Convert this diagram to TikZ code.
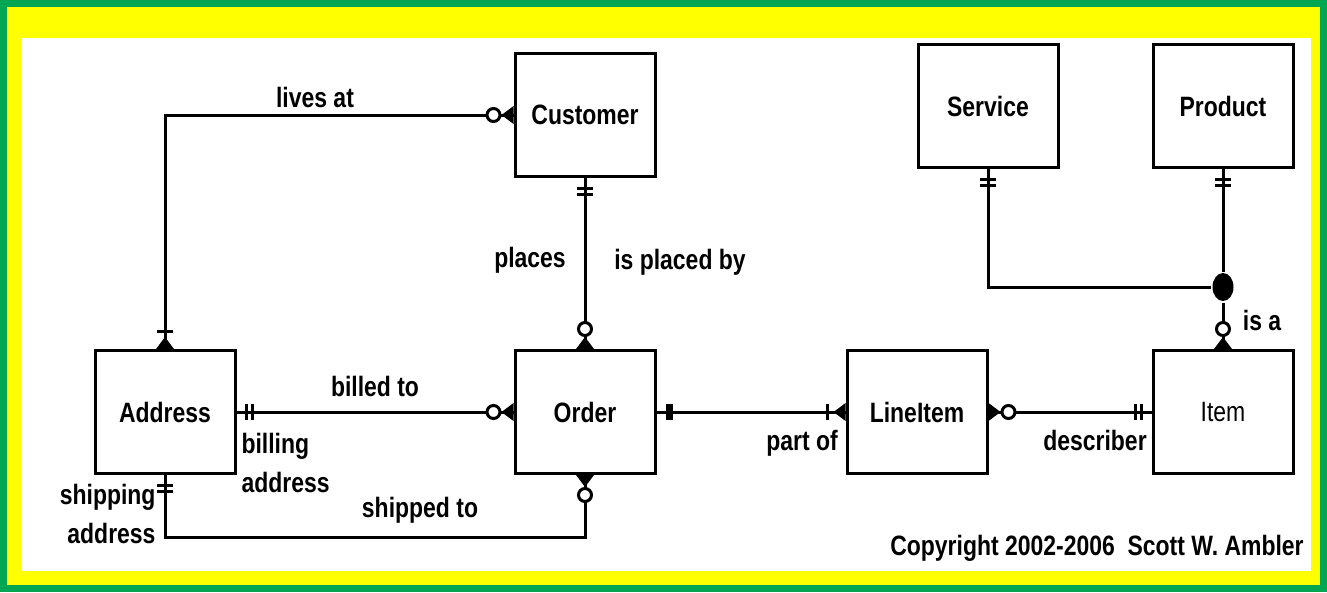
\documentclass[tikz,border=0pt]{standalone}
\usepackage{fontspec}
\setmainfont{Liberation Sans}[FakeStretch=0.82]
\usetikzlibrary{shapes.geometric}
\definecolor{framegreen}{RGB}{0,166,81}
\definecolor{bandyellow}{RGB}{255,255,0}

% relationship end markers: #1 = anchor on the entity, #2 = direction away from the entity
\newcommand\cardzeromany[2]{\begin{scope}[shift={(#1)},rotate=#2]
  \fill (0,-9) -- (0,9) -- (12,0) -- cycle;
  \draw[fill=white,line width=3pt] (20,0) circle [radius=6.5pt];
\end{scope}}
\newcommand\cardonemany[2]{\begin{scope}[shift={(#1)},rotate=#2]
  \fill (0,-9) -- (0,9) -- (12,0) -- cycle;
  \draw (18,-8) -- (18,8);
\end{scope}}
\newcommand\cardoneone[2]{\begin{scope}[shift={(#1)},rotate=#2]
  \draw (10,-8) -- (10,8) (16,-8) -- (16,8);
\end{scope}}
\newcommand\cardthickbar[2]{\begin{scope}[shift={(#1)},rotate=#2]
  \fill (9,-8) rectangle (16,8);
\end{scope}}

\begin{document}
\begin{tikzpicture}[x=1pt,y=-1pt,line width=3pt,
  entity/.style={draw,fill=white,minimum width=140pt,minimum height=123pt,inner sep=0pt,
    font=\fontsize{28}{30}\selectfont\bfseries},
  lbl/.style={inner sep=0pt,font=\fontsize{28}{39}\selectfont\bfseries}]

% frame
\fill[framegreen] (0,0) rectangle (1327,592);
\fill[bandyellow] (7,7) rectangle (1320,585);
\fill[white] (22,38) rectangle (1311,571);
\useasboundingbox (0,0) rectangle (1327,592);

% entities
\node[entity] (cust)  at (585,115) {Customer};
\node[entity] (svc)   at (988,106) {Service};
\node[entity] (prod)  at (1223,106) {Product};
\node[entity] (addr)  at (165,412) {Address};
\node[entity] (order) at (585,412) {Order};
\node[entity] (line)  at (917,412) {LineItem};
\node[entity,font=\fontsize{28}{30}\selectfont\mdseries] (item) at (1223,412) {Item};
\node[ellipse,fill=black,minimum width=21pt,minimum height=28pt,inner sep=0pt] (isa) at (1223,287) {};
\coordinate (ship) at (375,537);

% relationships
\draw (addr.north) |- (cust.west);
\draw (cust.south) -- (order.north);
\draw (addr.east) -- (order.west);
\draw (addr.south) |- (ship) -| (order.south);
\draw (order.east) -- (line.west);
\draw (line.east) -- (item.west);
\draw (svc.south) |- (isa.west);
\draw (prod.south) -- (isa.north);
\draw (isa.south) -- (item.north);

% cardinalities
\cardzeromany{cust.west}{180}
\cardonemany{addr.north}{90}
\cardoneone{cust.south}{270}
\cardzeromany{order.north}{90}
\cardoneone{addr.east}{0}
\cardzeromany{order.west}{180}
\cardoneone{addr.south}{270}
\cardzeromany{order.south}{270}
\cardthickbar{order.east}{0}
\cardonemany{line.west}{180}
\cardzeromany{line.east}{0}
\cardoneone{item.west}{180}
\cardoneone{svc.south}{270}
\cardoneone{prod.south}{270}
\cardzeromany{item.north}{90}

% labels
\node[lbl] (l1) at (315,97) {lives at};
\node[lbl] (l2) at (530,260) {places};
\node[lbl] (l3) at (680,262) {is placed by};
\node[lbl] (l4) at (375,386) {billed to};
\node[lbl,align=left,anchor=west] (l5) at (240,463) {billing\\address};
\node[lbl,align=right,anchor=east] (l6) at (157,514) {shipping\\address};
\node[lbl] (l7) at (420,510) {shipped to};
\node[lbl] (l8) at (802,443) {part of};
\node[lbl] (l9) at (1095,440) {describer};
\node[lbl] (l10) at (1262,320) {is a};
\node[lbl] (l11) at (1097,548) {Copyright 2002-2006\ \ Scott W. Ambler};
\end{tikzpicture}
\end{document}
